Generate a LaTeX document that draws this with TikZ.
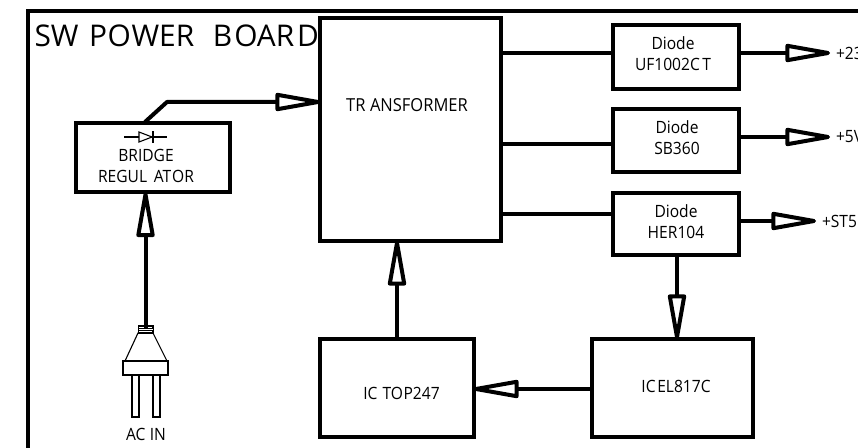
\documentclass[tikz,border=0pt]{standalone}
\usepackage{fontspec}
\setmainfont[FakeStretch=0.92]{Open Sans}
\newfontfamily\titlefont{Open Sans}
\usetikzlibrary{arrows.meta}
\tikzset{
  box/.style={draw=black,fill=white,line width=4bp,inner sep=0pt,outer sep=0pt,rectangle},
  lbl/.style={inner sep=0pt,outer sep=0pt,align=center,font=\fontsize{17}{21}\selectfont,text=black},
  wire/.style={line width=4bp,draw=black,line join=round},
  arr/.style={wire,-{Triangle[open,fill=white,length=55bp,width=18bp,line width=4bp,round]}},
  thin part/.style={draw=black,line width=1.1bp,fill=white}
}
\begin{document}
\begin{tikzpicture}[x=1bp,y=-1bp]
\useasboundingbox (0,0) rectangle (858,448);
\clip (0,0) rectangle (858,448);
\fill[white] (0,0) rectangle (858,448);
% outer frame
\draw[line width=4bp] (27.5,470) -- (27.5,11) -- (880,11);
\node[lbl,anchor=west,font=\titlefont\fontsize{30}{32}\selectfont] (title) at (34.5,36) {SW\kern.35em P\kern.02emO\kern.02emWER\kern.62em B\kern.07emOAR\kern.09em D};
% boxes
\node[box,minimum width=181bp,minimum height=223bp] (tr) at (410.5,129.5) {};
\node[box,minimum width=126bp,minimum height=64bp] (d1) at (676,57) {};
\node[box,minimum width=126bp,minimum height=63bp] (d2) at (676,140.5) {};
\node[box,minimum width=126bp,minimum height=62bp] (d3) at (676,224) {};
\node[box,minimum width=154bp,minimum height=69.5bp] (br) at (153,157.75) {};
\node[box,minimum width=154bp,minimum height=98bp] (top) at (397,388) {};
\node[box,minimum width=161bp,minimum height=98bp] (el) at (672.5,388) {};
% labels
\node[lbl,font=\fontsize{18}{21}\selectfont] (ltr) at (407,105) {TR\kern.25emANSFORMER};
\node[lbl] (ld1) at (673,54) {Diode\\UF1002C\kern.15em T};
\node[lbl] (ld2) at (677,137.5) {Diode\\SB360};
\node[lbl] (ld3) at (676,222) {Diode\\HER104};
\node[lbl] (lbr) at (146,165.5) {BRIDGE\\REGUL\kern.4em AT\kern.05em OR};
\node[lbl] (ltop) at (401.5,393) {IC\kern.3em TO\kern.03em P247};
\node[lbl] (lel) at (676,386) {IC\kern.1em EL817C};
\node[lbl,anchor=west] (o1t) at (836,53) {+23V};
\node[lbl,anchor=west] (o2t) at (836,137) {+5V};
\node[lbl,anchor=west] (o3t) at (822,221) {+ST5};
\node[lbl] (lac) at (146,434) {AC\kern.25em IN};
% coordinates
\coordinate (o1) at (830,53);
\coordinate (o2) at (830,137);
\coordinate (o3) at (816,221);
\coordinate (s2) at (560,144);
\coordinate (s3) at (560,214);
\coordinate (bend) at (167,102);
\coordinate (brtop) at (145,122);
\coordinate (plugtop) at (145.5,327);
\coordinate (fbup) at (397,241);
\coordinate (fbdn) at (677,339);
\coordinate (fbl) at (474,389);
% transformer to diodes
\draw[wire] (tr.east |- o1) -- (d1.west |- o1);
\draw[wire] (tr.east |- s2) -- (d2.west |- s2);
\draw[wire] (tr.east |- s3) -- (d3.west |- s3);
% outputs
\draw[arr] (d1.east |- o1) -- (o1);
\draw[arr] (d2.east |- o2) -- (o2);
\draw[arr] (d3.east |- o3) -- (o3);
% others
\draw[arr] (brtop) -- (bend) -- (tr.west |- bend);
\draw[arr] (plugtop) -- (plugtop |- br.south);
\draw[arr] (top.north -| fbup) -- (fbup);
\draw[arr] (d3.south -| fbdn) -- (fbdn);
\draw[arr] (el.west |- fbl) -- (fbl);
% diode symbol
\draw[line width=1.1bp] (124,137) -- (167,137);
\draw[thin part] (139,132) -- (152,137) -- (139,142) -- cycle;
\draw[line width=1.1bp] (153,131.5) -- (153,143);
% plug
\draw[thin part] (132,375) rectangle (139,417);
\draw[thin part] (153,375) rectangle (160,417);
\draw[thin part] (138,333) -- (125,361) -- (167,361) -- (153,333) -- cycle;
\draw[thin part] (123,361) rectangle (168,375);
\draw[thin part] (138.5,326) rectangle (153,333);
\draw[draw=black,line width=1bp,fill=white] (138.5,329) rectangle (153,331);
\draw[line width=4bp] (145.5,326) -- (145.5,329);
\end{tikzpicture}
\end{document}
